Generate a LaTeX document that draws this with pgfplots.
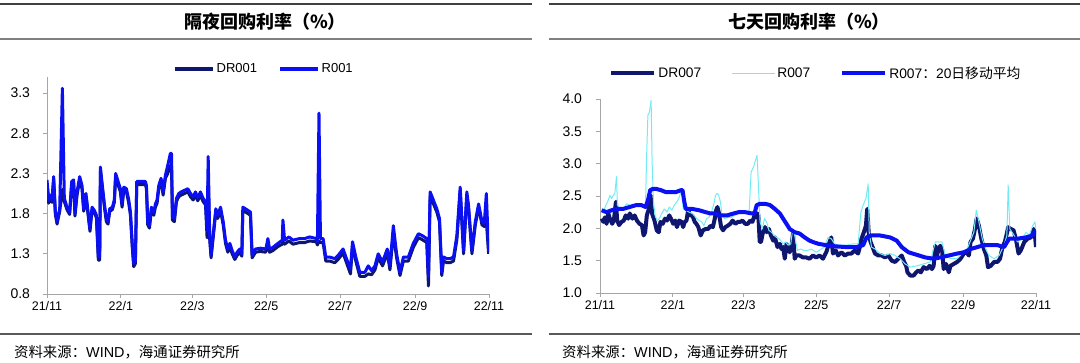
\documentclass[border=0pt]{standalone}
\usepackage{pgfplots}
\pgfplotsset{compat=1.18}
\usepackage{pgfplotstable}
\usepackage{fontspec}
\setmainfont{Liberation Sans}
\newfontfamily\cjk{Noto Sans CJK SC}
\definecolor{drblue}{HTML}{0F1670}
\definecolor{rblue}{HTML}{0A10F2}
\definecolor{cyanl}{HTML}{72ECF4}
\definecolor{axgray}{HTML}{A6A6A6}

\pgfplotstableread{
day r001 dr001
0 2.22 2.18
1.4 1.97 1.93
2.8 2.03 2.00
4.1 1.97 1.94
5.5 2.26 2.22
6.9 1.82 1.79
8.3 1.70 1.67
10.5 1.86 1.83
12.7 3.36 2.10
14.3 1.99 1.95
16.5 1.88 1.85
18.7 1.82 1.79
20.4 2.20 2.16
22.0 2.22 2.18
23.1 1.80 1.77
24.8 2.07 2.03
27.0 2.26 2.22
28.9 2.15 2.11
30.3 1.86 1.83
32.2 2.05 2.01
33.9 1.82 1.79
35.5 1.61 1.58
37.2 1.88 1.85
39.1 1.84 1.81
40.8 1.78 1.75
42.4 1.26 1.22
43.5 1.26 1.22
44.1 2.38 2.33
45.7 2.15 2.11
47.4 1.92 1.88
49.0 1.74 1.70
50.4 1.70 1.67
51.8 1.86 1.83
54.0 1.88 1.85
55.6 1.97 1.94
56.7 2.30 2.26
58.7 2.20 2.16
60.6 2.11 2.07
62.0 1.92 1.88
63.4 2.13 2.09
65.6 2.11 2.07
67.5 1.97 1.93
68.9 1.82 1.78
70.5 1.40 1.36
71.6 1.18 1.14
73.0 1.22 1.18
74.1 2.20 2.16
77.1 2.20 2.16
81.3 2.20 2.16
82.1 2.15 2.11
83.2 1.70 1.66
84.6 1.65 1.62
86.2 1.88 1.84
88.2 1.82 1.78
89.5 1.92 1.88
90.9 1.97 1.93
92.3 2.15 2.11
94.2 2.24 2.20
95.9 2.07 2.03
97.8 2.28 2.24
99.7 2.40 2.30
101.9 2.55 2.40
102.8 2.55 2.40
103.6 1.76 1.72
105.2 1.74 1.70
106.9 1.99 1.95
108.8 2.05 2.01
110.7 2.07 2.03
113.5 2.09 2.05
116.3 2.11 2.07
118.5 2.05 2.01
120.7 2.01 1.97
122.6 2.07 2.03
124.5 2.00 1.96
126.7 2.07 2.03
128.9 1.99 1.95
130.9 1.95 1.91
132.2 1.59 1.50
133.1 2.51 2.20
134.4 1.51 1.47
135.5 1.28 1.25
137.7 1.61 1.57
139.4 1.86 1.82
141.0 1.78 1.74
143.3 1.88 1.84
145.5 1.70 1.66
147.4 1.47 1.43
149.3 1.36 1.32
151.0 1.43 1.39
152.9 1.34 1.30
155.1 1.26 1.23
157.0 1.32 1.28
159.2 1.36 1.32
160.9 1.30 1.27
161.7 1.88 1.84
163.9 1.86 1.82
168.0 1.82 1.78
169.4 1.28 1.25
172.2 1.36 1.32
176.3 1.37 1.33
180.4 1.36 1.32
181.0 1.38 1.34
182.4 1.49 1.40
183.8 1.36 1.32
186.5 1.38 1.34
190.7 1.43 1.39
194.3 1.47 1.42
194.8 1.72 1.45
196.2 1.47 1.42
199.8 1.51 1.46
203.1 1.47 1.42
208.6 1.49 1.44
212.8 1.49 1.44
216.9 1.51 1.46
222.4 1.49 1.45
223.3 1.45 1.41
224.6 3.05 1.46
225.8 1.49 1.44
228.0 1.49 1.44
230.2 1.26 1.21
233.5 1.26 1.21
237.6 1.24 1.19
240.4 1.28 1.23
244.5 1.36 1.31
247.3 1.24 1.19
250.6 1.11 1.05
252.3 1.45 1.40
255.0 1.26 1.21
258.3 1.07 1.02
262.5 1.07 1.02
265.3 1.15 1.05
268.0 1.09 1.04
270.8 1.15 1.10
273.5 1.30 1.25
277.1 1.20 1.15
281.0 1.36 1.31
283.2 1.15 1.10
286.0 1.65 1.55
288.7 1.30 1.25
291.5 1.07 1.03
294.3 1.26 1.21
298.4 1.26 1.21
302.5 1.43 1.38
306.7 1.55 1.50
309.5 1.53 1.48
313.6 1.49 1.44
315.0 1.02 0.90
316.4 2.07 2.02
321.9 1.86 1.82
324.1 1.74 1.70
326.0 1.07 1.03
327.4 1.26 1.21
330.2 1.24 1.19
332.9 1.24 1.19
335.7 1.26 1.21
338.5 1.53 1.48
341.2 2.13 2.08
344.0 1.34 1.30
346.7 2.07 2.02
348.1 1.90 1.86
350.9 1.34 1.30
353.7 1.70 1.66
356.4 1.92 1.88
359.2 1.70 1.66
361.1 1.68 1.64
362.8 2.05 1.70
364.7 1.32 1.30
}\oneday

\pgfplotstableread{
day v
1.4 2.15
2.8 2.10
4.1 2.17
5.5 2.07
6.9 2.23
8.3 2.15
10.2 2.07
11.6 2.12
13.3 2.41
14.4 2.12
16.0 2.05
18.0 2.10
19.9 2.12
21.5 2.20
23.5 2.15
24.9 2.23
27.1 2.15
29.0 2.20
30.9 2.12
33.1 2.07
35.1 2.05
36.5 1.89
37.8 1.94
39.2 2.20
40.9 2.30
42.3 2.51
43.6 2.23
45.6 2.12
47.5 1.97
49.2 1.94
50.6 2.10
52.5 2.07
54.4 2.15
56.1 2.12
58.0 2.20
59.4 2.15
61.3 2.07
63.0 2.12
64.4 2.02
66.3 2.12
68.2 2.10
69.6 2.02
71.0 2.10
72.4 2.12
73.8 2.28
75.4 2.20
77.3 2.20
79.3 2.10
80.7 2.07
82.3 2.02
84.3 1.89
86.2 1.97
88.4 1.99
90.6 1.99
92.5 2.04
94.5 2.02
96.1 2.15
97.2 2.28
98.3 2.33
99.4 2.25
101.4 2.02
103.0 1.97
105.0 2.02
106.9 2.04
109.1 2.07
111.0 2.12
113.3 2.07
115.5 2.10
117.4 2.10
119.3 2.12
121.5 2.07
123.8 2.07
125.7 2.12
127.6 2.10
129.3 2.20
130.4 2.17
131.8 2.23
132.6 2.20
133.7 1.79
134.8 1.79
136.2 1.92
138.1 2.02
139.5 1.94
141.4 1.99
143.1 1.89
145.0 1.81
146.4 1.86
148.6 1.71
150.6 1.76
151.9 1.68
153.3 1.71
154.7 1.53
156.1 1.76
157.5 1.68
158.8 1.63
160.2 1.71
161.6 1.92
163.0 1.53
164.4 1.58
167.1 1.58
169.9 1.55
172.7 1.55
175.4 1.53
178.2 1.58
181.0 1.55
183.8 1.58
186.6 1.53
189.4 1.63
192.2 1.79
193.6 1.86
195.0 1.61
197.3 1.66
199.3 1.58
202.1 1.63
204.9 1.58
207.7 1.61
210.5 1.61
213.3 1.66
216.1 1.61
217.5 1.71
218.9 1.84
220.9 1.94
222.6 2.04
223.7 2.30
225.1 1.89
226.5 1.79
228.2 1.71
230.2 1.61
233.0 1.58
235.8 1.58
238.6 1.55
241.4 1.58
244.2 1.50
247.0 1.48
249.8 1.53
252.6 1.58
254.6 1.48
256.3 1.42
257.4 1.32
259.7 1.27
262.5 1.27
264.7 1.32
266.7 1.35
268.6 1.32
270.9 1.40
273.7 1.37
275.9 1.42
277.9 1.37
279.3 1.42
280.7 1.73
282.1 1.58
283.5 1.68
284.9 1.73
286.3 1.68
287.7 1.37
289.7 1.45
292.0 1.32
293.4 1.42
296.2 1.45
299.0 1.48
301.8 1.53
304.6 1.61
306.8 1.63
308.8 1.58
310.2 1.79
312.2 1.84
313.9 1.99
315.3 2.15
317.2 2.04
319.2 1.84
321.4 1.68
323.4 1.58
324.8 1.40
327.1 1.42
329.9 1.48
332.7 1.48
334.9 1.53
336.9 1.71
338.9 1.79
340.6 1.92
341.7 2.02
343.9 1.99
346.2 1.97
348.1 1.84
350.4 1.61
352.3 1.66
355.2 1.79
358.0 1.84
360.8 1.86
363.0 1.99
364.1 1.89
365.0 1.71
}\drseven

\pgfplotstableread{
day v
1.4 2.30
3.3 2.28
5.0 2.36
6.4 2.41
8.3 2.51
9.7 2.46
11.0 2.51
12.4 2.54
13.8 2.80
14.6 2.36
16.6 2.30
19.3 2.28
22.1 2.38
24.9 2.36
27.6 2.33
30.4 2.38
33.1 2.36
35.9 2.33
38.1 2.36
39.2 3.23
40.1 3.75
41.4 3.80
42.8 3.98
43.6 3.03
44.8 2.41
46.1 2.20
47.8 2.12
49.7 2.15
51.7 2.23
53.9 2.30
56.1 2.25
58.0 2.33
60.2 2.28
62.2 2.36
64.4 2.41
66.3 2.48
67.7 2.56
68.5 2.61
69.6 2.30
71.8 2.28
74.6 2.25
77.3 2.23
80.1 2.17
82.9 2.12
85.1 2.10
87.0 2.04
89.2 2.15
91.2 2.17
93.4 2.25
95.3 2.38
96.7 2.51
98.1 2.54
99.4 2.51
100.8 2.41
102.2 2.20
104.4 2.15
107.2 2.17
109.9 2.17
112.7 2.20
115.5 2.23
117.4 2.28
120.2 2.23
122.9 2.23
124.9 2.28
126.5 2.87
128.5 2.95
129.8 3.03
131.5 3.13
132.6 2.67
134.0 2.10
135.9 1.99
137.6 2.15
139.5 2.10
141.4 1.97
143.6 1.94
145.9 1.89
147.8 1.86
149.7 1.84
151.4 1.81
153.3 1.76
155.2 1.79
157.5 1.74
159.7 1.76
161.3 1.99
163.0 1.89
165.2 1.66
168.0 1.68
170.7 1.66
174.0 1.66
176.8 1.68
181.0 1.63
185.2 1.68
188.0 1.71
190.8 1.86
193.6 1.84
196.4 1.76
200.7 1.74
206.3 1.74
211.9 1.76
216.1 1.76
218.4 2.25
220.3 2.36
222.6 2.46
224.5 2.69
225.4 1.94
227.3 1.71
230.2 1.68
234.4 1.61
238.6 1.58
242.8 1.61
247.0 1.58
251.2 1.53
255.4 1.45
259.7 1.40
265.3 1.42
270.9 1.45
276.5 1.48
280.7 1.79
283.5 1.79
286.3 1.79
289.1 1.58
293.4 1.53
299.0 1.53
303.2 1.61
307.4 1.68
310.8 1.84
313.0 1.94
315.0 2.28
317.2 2.10
320.0 1.84
322.9 1.68
325.7 1.58
329.9 1.53
334.1 1.58
338.3 1.74
340.6 1.89
341.7 2.67
343.1 1.99
346.7 1.89
349.5 1.79
353.8 1.84
356.6 1.94
359.4 1.89
362.2 2.04
364.1 2.10
365.0 1.99
}\rseven

\pgfplotstableread{
day v
1.4 2.28
5.5 2.25
9.7 2.28
13.8 2.30
19.3 2.30
24.9 2.33
30.4 2.36
34.5 2.36
38.1 2.33
40.1 2.43
42.0 2.59
44.2 2.61
47.0 2.61
51.1 2.59
55.2 2.56
59.4 2.56
63.5 2.56
67.7 2.59
69.1 2.59
70.4 2.43
71.8 2.30
77.3 2.30
82.9 2.28
88.4 2.25
92.5 2.23
96.7 2.23
100.8 2.20
106.4 2.20
111.9 2.23
116.0 2.25
121.5 2.25
127.1 2.23
129.3 2.23
131.2 2.36
134.0 2.38
138.1 2.38
142.3 2.36
146.4 2.30
150.6 2.23
153.3 2.15
156.1 2.07
158.8 1.99
163.0 1.94
167.1 1.92
171.3 1.86
175.4 1.81
179.6 1.78
183.0 1.76
189.4 1.74
197.9 1.72
206.3 1.71
214.7 1.71
220.3 1.74
223.1 1.86
227.3 1.89
234.4 1.89
242.8 1.86
248.4 1.81
252.6 1.71
258.2 1.63
265.3 1.59
272.3 1.55
279.3 1.53
284.9 1.55
292.0 1.58
299.0 1.61
304.6 1.63
310.2 1.68
315.8 1.71
321.4 1.74
327.1 1.74
332.7 1.74
338.3 1.71
342.5 1.84
349.5 1.84
356.6 1.86
362.2 1.89
365.0 1.97
}\maseven

\pgfplotsset{
  panel/.style={
    scale only axis,
    anchor=south west,
    xmin=0, xmax=365,
    axis x line*=bottom, axis y line*=left,
    axis line style={axgray, line width=0.9pt},
    xtick={0,61,120,181,242,304,365},
    xticklabels={21/11,22/1,22/3,22/5,22/7,22/9,22/11},
    tick align=outside,
    major tick length=4pt,
    tick style={axgray, line width=0.9pt},
    /pgf/number format/assume math mode=true,
    yticklabel style={/pgf/number format/.cd, fixed, fixed zerofill, precision=1, /tikz/.cd, font=\fontsize{14}{16}\selectfont},
    xticklabel style={font=\fontsize{12.5}{15}\selectfont},
    legend columns=-1,
    every axis plot/.append style={line join=round, mark=none},
  }
}

\begin{document}
\begin{tikzpicture}
\path[use as bounding box] (0pt,0pt) rectangle (1080pt,-362pt);
% frame lines
\draw[line width=1.6pt, black!75] (0pt,-4pt) -- (532pt,-4pt);
\draw[line width=1.8pt, black!50] (0pt,-39pt) -- (532pt,-39pt);
\draw[line width=1.4pt, black!65] (0pt,-334pt) -- (532pt,-334pt);
\draw[line width=1.6pt, black!75] (549pt,-4pt) -- (1080pt,-4pt);
\draw[line width=1.8pt, black!50] (549pt,-39pt) -- (1080pt,-39pt);
\draw[line width=1.4pt, black!65] (549pt,-334pt) -- (1080pt,-334pt);
\node[font=\cjk\bfseries\fontsize{18}{20}\selectfont] at (265pt,-21.5pt) {隔夜回购利率（\%）};
\node[font=\cjk\bfseries\fontsize{18}{20}\selectfont] at (809pt,-21.5pt) {七天回购利率（\%）};
\node[anchor=west, inner sep=0pt, font=\cjk\fontsize{14.4}{16}\selectfont] at (14pt,-352pt) {资料来源：{\rmfamily WIND}，海通证券研究所};
\node[anchor=west, inner sep=0pt, font=\cjk\fontsize{14.4}{16}\selectfont] at (562pt,-352pt) {资料来源：{\rmfamily WIND}，海通证券研究所};

\begin{axis}[panel,
  at={(47pt,-294pt)}, width=442pt, height=217pt,
  ymin=0.8, ymax=3.5, ytick={0.8,1.3,1.8,2.3,2.8,3.3},
  yticklabel style={xshift=-9.5pt},
  legend image code/.code={\draw[#1, line width=3.5pt] (0pt,0pt) -- (38pt,0pt);},
  legend style={at={(0.285,1.037)}, anchor=west, draw=none, fill=none, inner sep=0pt,
    font=\fontsize{13}{15}\selectfont, nodes={inner sep=2pt},
    /tikz/every even column/.append style={column sep=19pt}},
]
\addplot[drblue, line width=3pt] table[x=day, y=dr001] {\oneday};
\addlegendentry{DR001}
\addplot[rblue, line width=3pt] table[x=day, y=r001] {\oneday};
\addlegendentry{R001}
\end{axis}

\begin{axis}[panel,
  at={(600pt,-293pt)}, width=436pt, height=194pt,
  ymin=1, ymax=4, ytick={1,1.5,2,2.5,3,3.5,4},
  yticklabel style={xshift=-10.5pt},
  legend style={at={(0.021,1.134)}, anchor=west, draw=none, fill=none, inner sep=0pt,
    font=\fontsize{13.8}{16}\selectfont, nodes={inner sep=2pt},
    /tikz/every even column/.append style={column sep=28pt}},
  legend image code/.code={\draw[#1] (0pt,0pt) -- (43pt,0pt);},
]
\addplot[drblue, line width=4pt] table[x=day, y=v] {\drseven};
\addlegendentry{DR007}
\addplot[cyanl, line width=1pt] table[x=day, y=v] {\rseven};
\addlegendentry{R007}
\addplot[rblue, line width=4pt] table[x=day, y=v] {\maseven};
\addlegendentry{R007{\cjk：}20{\cjk 日移动平均}}
\end{axis}
\end{tikzpicture}
\end{document}
